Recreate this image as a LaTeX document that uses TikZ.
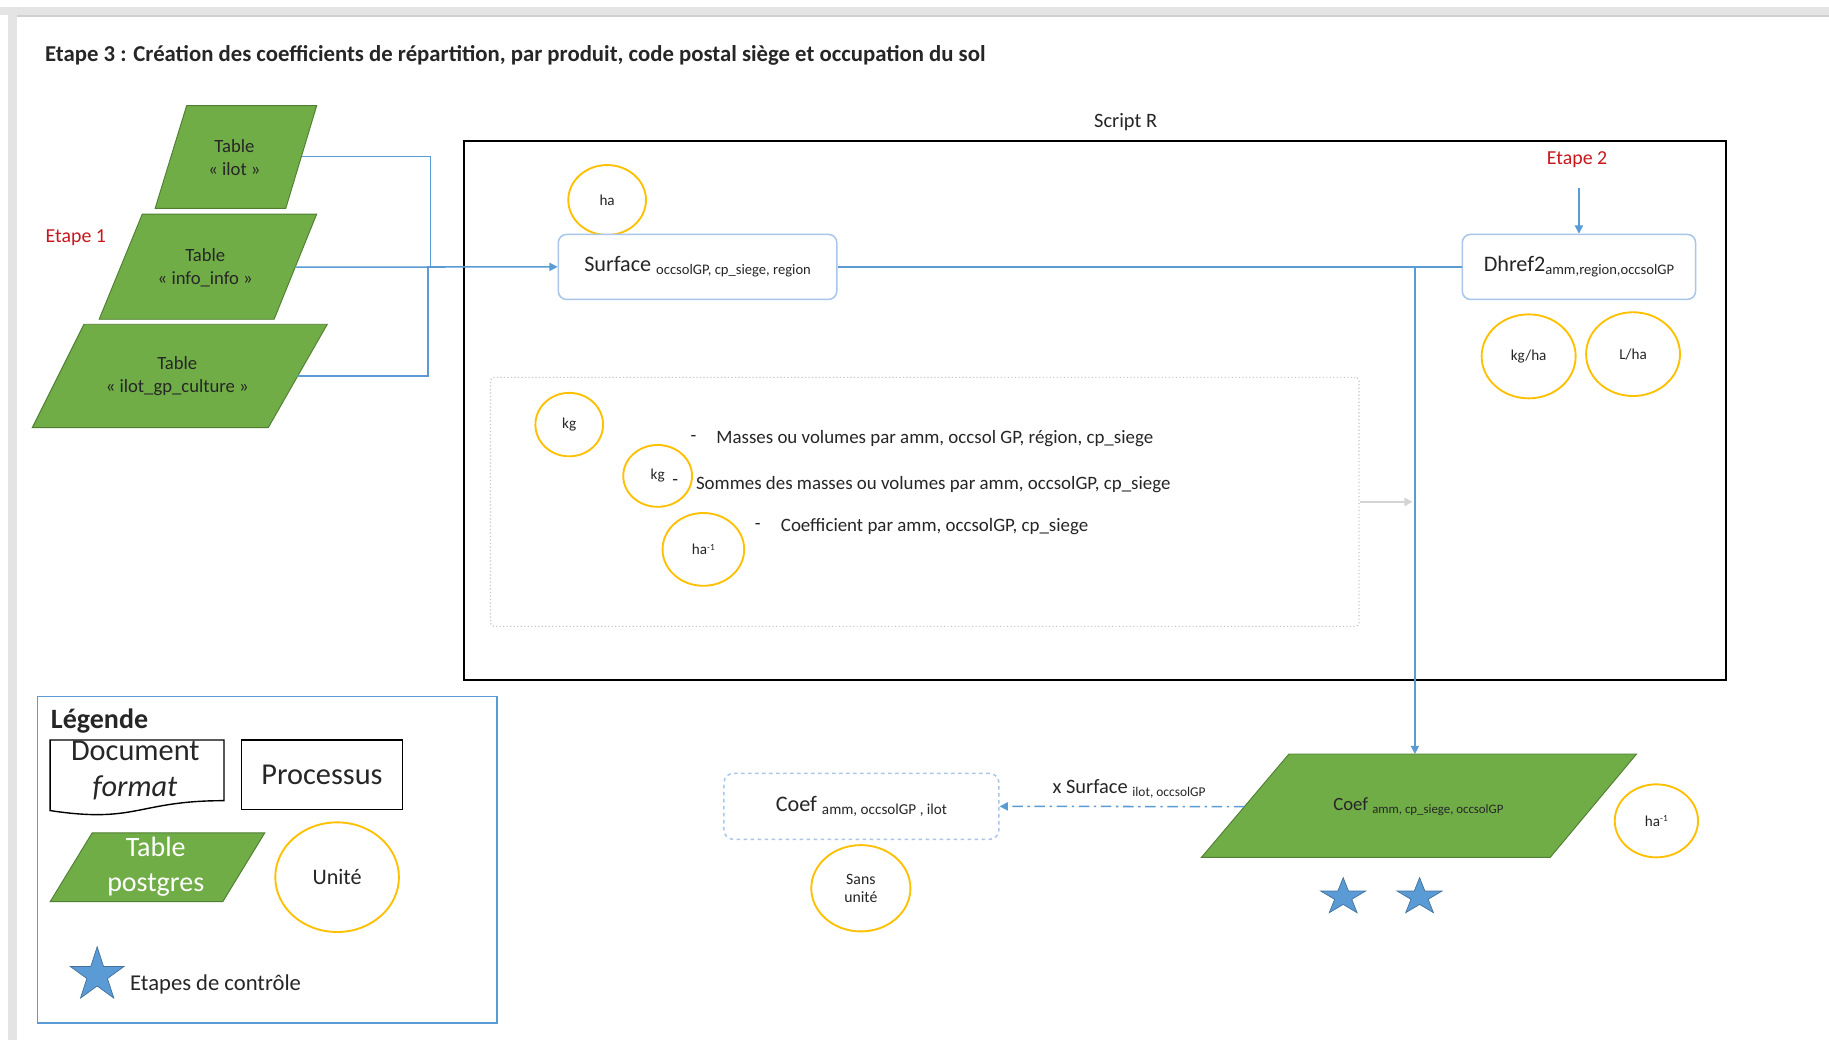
\documentclass[tikz,border=0pt]{standalone}
\usepackage{fontspec}
\setmainfont{Carlito}
\usetikzlibrary{arrows.meta,shapes.geometric}
\definecolor{tgreen}{HTML}{70AD47}
\definecolor{tgreenb}{HTML}{507E32}
\definecolor{cblue}{HTML}{5B9BD5}
\definecolor{lblue}{HTML}{A9C6EA}
\definecolor{uorange}{HTML}{FFC000}
\definecolor{ered}{HTML}{C8161D}
\definecolor{starb}{HTML}{41719C}
\definecolor{dgray}{HTML}{C4C4C4}
\definecolor{agray}{HTML}{D4D4D4}
\definecolor{band}{HTML}{E4E4E4}
\definecolor{bandd}{HTML}{D0D0D0}
\newcommand\fs[2]{\fontsize{#1}{#2}\selectfont}
\begin{document}
\begin{tikzpicture}[x=1pt,y=-1pt,
  tbl/.style={fill=tgreen,draw=tgreenb,line width=0.8},
  tbltxt/.style={align=center,font=\fs{16}{19.5},text=black!85,inner sep=0},
  conn/.style={draw=cblue,line width=1.3},
  tip/.style={-{Triangle[width=7pt,length=7pt]}},
  unit/.style={ellipse,draw=uorange,line width=1.6,inner sep=0,text=black!85,font=\fs{13}{15},align=center},
  proc/.style={rectangle,rounded corners=7,draw=lblue,line width=1.3,fill=white,inner sep=0,text=black!85},
  lbl/.style={inner sep=0,text=black!85},
  redlbl/.style={inner sep=0,text=ered,font=\fs{17}{20}},
  ctrlstar/.style={star,star points=5,star point ratio=2.618,fill=cblue,draw=starb,line width=0.6,inner sep=0}
]
\useasboundingbox (0,0) rectangle (1568,892);
\fill[white] (0,0) rectangle (1568,892);
\fill[band] (0,5.7) rectangle (1568,13);
\fill[bandd] (14.3,13) rectangle (1568,14.3);
\fill[band] (7.1,5.7) rectangle (14.3,892);

% title
\node[lbl,anchor=base west,font=\bfseries\fs{19.5}{23}] (title) at (38.5,53)
  {Etape 3 : Création des coefficients de répartition, par produit, code postal siège et occupation du sol};

% input tables
\draw[tbl] (160,90.6) -- (271.5,90.6) -- (245,178.6) -- (133,178.6) -- cycle;
\draw[tbl] (122,183.5) -- (271.5,183.5) -- (235,273.7) -- (85,273.7) -- cycle;
\draw[tbl] (72,278) -- (280.6,278) -- (230,366.6) -- (27.7,366.6) -- cycle;
\node[tbltxt] (ilot) at (201,135) {Table\\« ilot »};
\node[tbltxt] (info) at (176,229.5) {Table\\« info\_info »};
\node[tbltxt] (gpc) at (152,322.5) {Table\\« ilot\_gp\_culture »};
\node[redlbl] (e1) at (65,204) {Etape 1};

\coordinate (ilotR) at (258.5,134);
\coordinate (infoR) at (253,229);
\coordinate (gpcR) at (255,322.4);
\coordinate (mA) at (369,229);
\coordinate (mB) at (367,229);

% script frame
\node[lbl,font=\fs{17.5}{20}] (scriptR) at (965,105) {Script R};
\draw[line width=1.8] (398,120.5) rectangle (1479.5,583);

% surface
\node[unit,minimum width=66.6,minimum height=60] (uha) at (520.5,171.5) {ha};
\node[proc,minimum width=238.7,minimum height=55.7] (surf) at (598,228.8)
  {\fs{19}{22}Surface \raisebox{-2.5pt}{\fs{12.5}{14}occsolGP, cp\_siege, region}};

% dhref2
\node[redlbl] (e2) at (1352,137) {Etape 2};
\coordinate (e2a) at (1353.6,161.4);
\node[proc,minimum width=200,minimum height=55.7] (dh) at (1353.6,228.8)
  {\fs{19}{22}Dhref2\raisebox{-2.5pt}{\fs{12.5}{14}amm,region,occsolGP}};
\node[unit,minimum width=80.6,minimum height=72] (ukgha) at (1310.5,305.5) {kg/ha};
\node[unit,minimum width=80.5,minimum height=71.8] (ulha) at (1400,303.6) {L/ha};

% calculation box
\node[draw=dgray,dotted,line width=1,rounded corners=3,minimum width=744.5,minimum height=213.5,inner sep=0] (calc) at (792.75,430.25) {};
\node[unit,minimum width=58,minimum height=54.4] (ukg1) at (488,364) {kg};
\node[unit,minimum width=59,minimum height=53] (ukg2) at (563.8,408) {kg};
\node[unit,minimum width=70,minimum height=62.4] (uha1) at (603,471) {ha\raisebox{4pt}{\fs{8}{9}-1}};
\node[lbl,font=\fs{16.2}{19}] (d1) at (594.5,375.5) {-};
\node[lbl,font=\fs{16.2}{19},anchor=west] (t1) at (614,375.8) {Masses ou volumes par amm, occsol GP, région, cp\_siege};
\node[lbl,font=\fs{16.2}{19}] (d2) at (578.8,414) {-};
\node[lbl,font=\fs{16.2}{19},anchor=west] (t2) at (596.5,415.8) {Sommes des masses ou volumes par amm, occsolGP, cp\_siege};
\node[lbl,font=\fs{16.2}{19}] (d3) at (649.6,451.5) {-};
\node[lbl,font=\fs{16.2}{19},anchor=west] (t3) at (669.3,451.5) {Coefficient par amm, occsolGP, cp\_siege};
\coordinate (jg) at (1211,430.25);

% output coef
\draw[tbl] (1105,646.4) -- (1403,646.4) -- (1329,735) -- (1030,735) -- cycle;
\node[lbl] (coefg) at (1216,691.5) {\fs{16}{19}Coef \raisebox{-2pt}{\fs{11}{13}amm, cp\_siege, occsolGP}};
\coordinate (jn) at (1213,229);
\coordinate (coefTop) at (1213,646.4);
\coordinate (coefL) at (1066.8,691.5);
\node[unit,minimum width=71.4,minimum height=62.6] (uha2) at (1420,703.7) {ha\raisebox{4pt}{\fs{8}{9}-1}};
\begin{scope}[shift={(1151.5,769)},xscale=1.22,transform shape]
  \node[ctrlstar,minimum size=33.2] (st1) at (0,0) {};
\end{scope}
\begin{scope}[shift={(1217,769)},xscale=1.22,transform shape]
  \node[ctrlstar,minimum size=33.2] (st2) at (0,0) {};
\end{scope}

\node[proc,dashed,rounded corners=8,minimum width=235.7,minimum height=56.5] (coefb) at (738.5,691.3)
  {\fs{19}{22}Coef \raisebox{-3pt}{\fs{13}{15}amm, occsolGP , ilot}};
\node[unit,minimum width=85,minimum height=74,font=\fs{13.5}{15.5}] (usans) at (738,761.5) {Sans\\unité};
\node[lbl] (xsurf) at (968,676) {\fs{17.5}{20}x Surface \raisebox{-2.5pt}{\fs{11.5}{13}ilot, occsolGP}};

% legend
\draw[cblue,line width=1.3] (32,597) rectangle (426,877);
\node[lbl,anchor=base west,font=\bfseries\fs{24}{28}] (leg) at (43.5,624.5) {Légende};
\draw[line width=1.2,fill=white] (43,634.4) -- (192,634.4) -- (192,686.4) .. controls (117.5,686.4) and (117.5,706.2) .. (43,694.9) -- cycle;
\node[lbl,anchor=base,font=\fs{26}{30}] (docA) at (116,652) {Document};
\node[lbl,anchor=base,font=\itshape\fs{26}{30}] (docB) at (115.7,683) {format};
\node[rectangle,draw,line width=1.3,minimum width=138,minimum height=59.5,inner sep=0,font=\fs{26}{30},text=black!85] (procL) at (276,664.2) {Processus};
\draw[tbl] (79,714) -- (227,714) -- (191,773) -- (43,773) -- cycle;
\node[align=center,inner sep=0,text=white,font=\fs{24}{29.5}] (tpg) at (133.5,743) {Table\\postgres};
\node[unit,minimum width=106,minimum height=94,font=\fs{19}{22}] (uunit) at (289,752) {Unité};
\node[ctrlstar,minimum size=48.6] (stL) at (83.3,836) {};
\node[lbl,anchor=west,font=\fs{19.4}{22}] (etc) at (111.4,843.6) {Etapes de contrôle};

% connectors
\draw[conn] (ilotR) -| (mA);
\draw[conn] (gpcR) -| (mB);
\draw[conn,tip] (infoR) -- (surf.west);
\draw[conn,line width=1.5] (surf.east) -- (dh.west);
\draw[conn,tip] (e2a) -- (dh.north);
\draw[conn,tip] (jn) -- (coefTop);
\draw[agray,line width=1.5,-{Triangle[width=7pt,length=7pt]}] (calc.east) -- (jg);
\draw[conn,dash pattern=on 9pt off 4pt on 2pt off 4pt,tip] (coefL) -- (coefb.east);
\end{tikzpicture}
\end{document}
